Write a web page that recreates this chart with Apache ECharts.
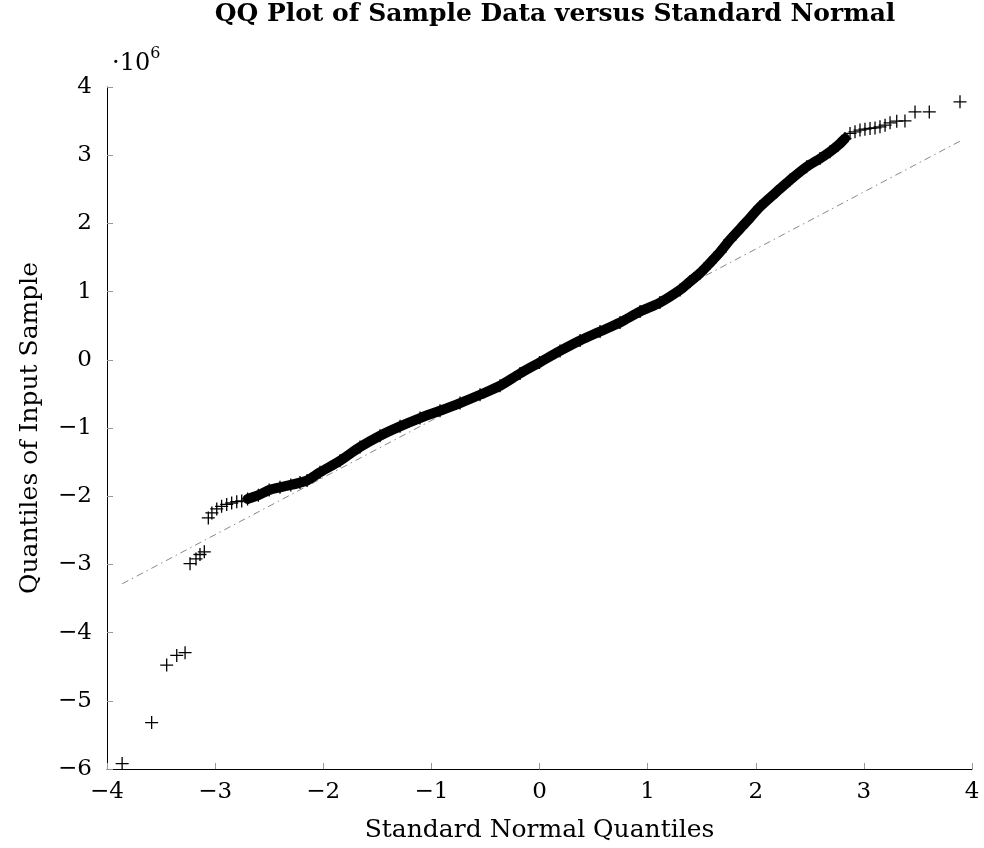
<!DOCTYPE html>
<html>
<head>
<meta charset="utf-8">
<script src="https://cdn.jsdelivr.net/npm/echarts@6/dist/echarts.min.js"></script>
<style>
html,body{margin:0;padding:0;background:#fff;}
#chart{width:984px;height:848px;}
</style>
</head>
<body>
<div id="chart"></div>
<script>
// ---- Data (y in units of 1e6) ----
const leftTail = [
  [-3.86,-5.92],[-3.587,-5.32],[-3.448,-4.476],[-3.355,-4.334],[-3.278,-4.295],
  [-3.232,-2.99],[-3.177,-2.92],[-3.14,-2.855],[-3.10,-2.816],
  [-3.063,-2.318],[-3.03,-2.245],[-2.985,-2.186],[-2.94,-2.148],[-2.893,-2.12],
  [-2.847,-2.10],[-2.80,-2.08],[-2.754,-2.07]
];
const band = [
  [-2.70,-2.04],[-2.60,-1.985],[-2.50,-1.91],[-2.40,-1.87],[-2.30,-1.835],
  [-2.215,-1.80],[-2.15,-1.77],[-2.03,-1.65],[-1.845,-1.48],[-1.66,-1.28],
  [-1.475,-1.113],[-1.29,-0.976],[-1.105,-0.854],[-0.92,-0.747],[-0.735,-0.634],
  [-0.55,-0.512],[-0.365,-0.381],[-0.18,-0.20],[0.0,-0.04],[0.19,0.13],
  [0.375,0.283],[0.56,0.415],[0.745,0.547],[0.93,0.707],[1.114,0.839],
  [1.30,1.025],[1.392,1.147],[1.484,1.269],[1.577,1.42],[1.67,1.58],
  [1.762,1.76],[1.916,2.025],[2.04,2.245],[2.194,2.465],[2.317,2.635],
  [2.471,2.83],[2.594,2.95],[2.687,3.05],[2.764,3.148],[2.825,3.245]
];
const rightTail = [
  [2.872,3.319],[2.918,3.343],[2.964,3.368],[3.01,3.382],[3.057,3.392],
  [3.103,3.40],[3.149,3.416],[3.196,3.44],[3.242,3.474],[3.304,3.499],
  [3.38,3.503],[3.473,3.635],[3.605,3.635],[3.889,3.782]
];
const refLine = [[-3.86,-3.285],[3.889,3.206]];
const xTickValues = [-4,-3,-2,-1,0,1,2,3,4];
const xTickLabels = ['\u22124','\u22123','\u22122','\u22121','0','1','2','3','4'];
const yTickValues = [-6,-5,-4,-3,-2,-1,0,1,2,3,4];
const yTickLabels = ['\u22126','\u22125','\u22124','\u22123','\u22122','\u22121','0','1','2','3','4'];
const SCALE = 1e6;

const toAbs = arr => arr.map(p => [p[0], p[1]*SCALE]);
const allPoints = toAbs(leftTail.concat(band, rightTail));

const FONT = 'DejaVu Serif';
const PLUS = 'path://M-0.1,-1H0.1V-0.1H1V0.1H0.1V1H-0.1V0.1H-1V-0.1H-0.1Z';

const chart = echarts.init(document.getElementById('chart'));
chart.setOption({
  animation: false,
  backgroundColor: '#fff',
  grid: {left:107, right:12, top:87, bottom:78, containLabel:false},
  xAxis: {
    type:'value', min:-4, max:4, interval:1,
    axisLine:{show:true, onZero:false, lineStyle:{color:'#000', width:1}},
    axisTick:{show:true, inside:true, length:6, lineStyle:{color:'#999', width:1}},
    splitLine:{show:false},
    axisLabel:{margin:12, color:'#000', fontFamily:FONT, fontSize:23,
      formatter: v => { const i = xTickValues.indexOf(Math.round(v)); return i>=0 ? xTickLabels[i] : ''; }},
    name:'Standard Normal Quantiles', nameLocation:'middle', nameGap:49,
    nameTextStyle:{color:'#000', fontFamily:FONT, fontSize:25}
  },
  yAxis: {
    type:'value', min:-6*SCALE, max:4*SCALE, interval:SCALE,
    axisLine:{show:true, onZero:false, lineStyle:{color:'#000', width:1}},
    axisTick:{show:true, inside:true, length:6, lineStyle:{color:'#999', width:1}},
    splitLine:{show:false},
    axisLabel:{margin:15, color:'#000', fontFamily:FONT, fontSize:23,
      formatter: v => { const i = yTickValues.indexOf(Math.round(v/SCALE)); return i>=0 ? yTickLabels[i] : ''; }},
    name:'Quantiles of Input Sample', nameLocation:'middle', nameGap:64, nameRotate:90,
    nameTextStyle:{color:'#000', fontFamily:FONT, fontSize:25}
  },
  graphic: [
    {type:'text', x:555, y:2, style:{text:'QQ Plot of Sample Data versus Standard Normal',
      fill:'#000', font:'bold 25px "DejaVu Serif"', textAlign:'center', textVerticalAlign:'top'}},
    {type:'text', x:112, y:46, style:{
      text:'{a|\u00b710}{b|6}', fill:'#000',
      rich:{a:{fontFamily:FONT, fontSize:24, fill:'#000', verticalAlign:'bottom'},
            b:{fontFamily:FONT, fontSize:16, fill:'#000', verticalAlign:'top', padding:[0,0,14,0]}}}}
  ],
  series: [
    {type:'line', data:toAbs(refLine), symbol:'none', silent:true, z:1,
     lineStyle:{color:'#888', width:1, type:[7,4,1.5,4]}},
    {type:'line', data:toAbs(band), symbol:'none', silent:true, z:2, smooth:0.3,
     lineStyle:{color:'#000', width:10, cap:'round', join:'round'}},
    {type:'scatter', data:allPoints, symbol:PLUS, symbolSize:13, z:3,
     itemStyle:{color:'#000', opacity:1}}
  ]
});
</script>
</body>
</html>
